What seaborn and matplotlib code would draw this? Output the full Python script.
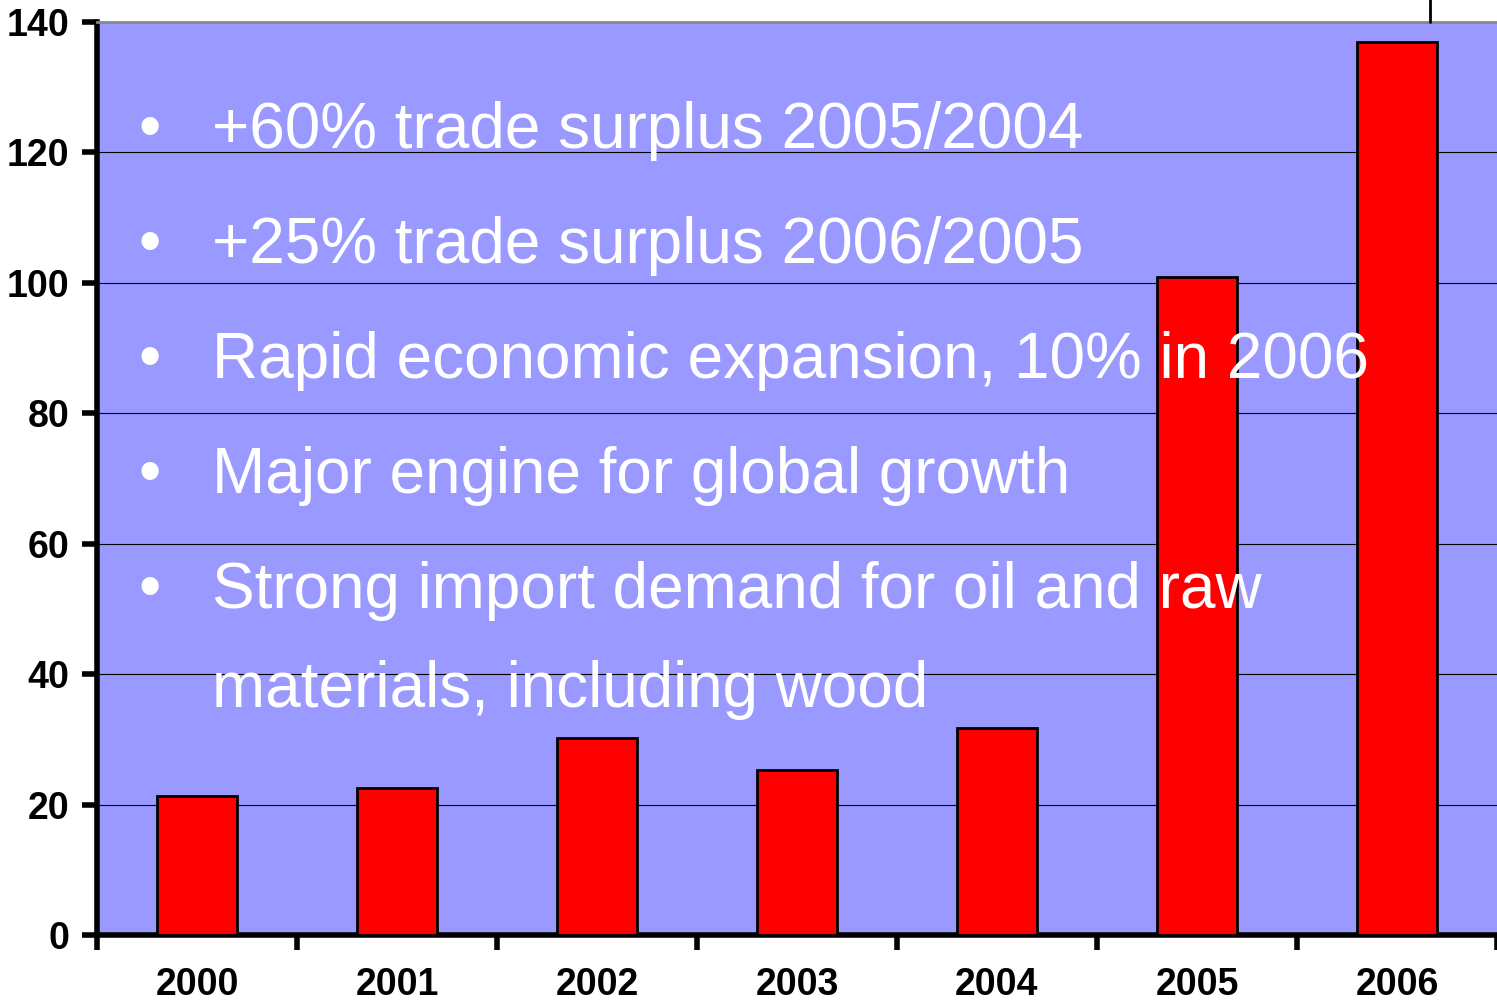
import matplotlib
matplotlib.use("Agg")
import matplotlib.pyplot as plt
import seaborn as sns
import pandas as pd
from matplotlib.lines import Line2D

years = ["2000", "2001", "2002", "2003", "2004", "2005", "2006"]
surplus = [21.3, 22.5, 30.2, 25.3, 31.7, 100.9, 137.0]
y_ticks = [0, 20, 40, 60, 80, 100, 120, 140]
bullets = [
    "+60% trade surplus 2005/2004",
    "+25% trade surplus 2006/2005",
    "Rapid economic expansion, 10% in 2006",
    "Major engine for global growth",
    "Strong import demand for oil and raw",
]
continuation = "materials, including wood"

sns.set_theme(style="white")
plt.rcParams["font.family"] = ["Liberation Sans", "DejaVu Sans"]

W, H = 1497, 1007
fig = plt.figure(figsize=(W / 100, H / 100), dpi=100)
ax = fig.add_axes([97 / W, 1 - 935 / H, 1 - 97 / W, (935 - 22) / H])
ax.set_facecolor("#9999FF")

df = pd.DataFrame({"year": years, "surplus": surplus})
sns.barplot(data=df, x="year", y="surplus", color="#FF0000", width=0.4,
            edgecolor="black", linewidth=2, saturation=1, ax=ax, zorder=3)

ax.set_ylim(0, 140)
ax.set_xlim(-0.5, len(years) - 0.5)
ax.set_yticks(y_ticks)
ax.set_yticklabels([str(v) for v in y_ticks], fontsize=27, fontweight="bold", color="black")
ax.yaxis.grid(True, color="black", linewidth=0.8, zorder=0)
ax.set_axisbelow(True)

ax.set_xticks([i - 0.5 for i in range(len(years) + 1)])
ax.set_xticklabels([])
ax.set_xticks(range(len(years)), minor=True)
ax.set_xticklabels(years, minor=True, fontsize=27, fontweight="bold", color="black")
ax.tick_params(axis="x", which="major", direction="out", length=11, width=4, color="black", bottom=True)
ax.tick_params(axis="x", which="minor", length=0, pad=23, bottom=True, labelcolor="black")
ax.tick_params(axis="y", direction="out", length=11, width=4, color="black", pad=9, left=True, labelcolor="black")
ax.set_xlabel("")
ax.set_ylabel("")

for side in ["left", "bottom"]:
    ax.spines[side].set_color("black")
    ax.spines[side].set_linewidth(4)
ax.spines["top"].set_color("#888888")
ax.spines["top"].set_linewidth(2)
ax.spines["right"].set_visible(False)

def ax_xy(px, py):
    return ((px - 97) / (W - 97), (935 - py) / (935 - 22))

baselines = [148, 263, 378, 493, 608]
for text, b in zip(bullets, baselines):
    x0, y0 = ax_xy(150, b)
    ax.text(x0, y0, "•", transform=ax.transAxes, color="white", fontsize=46,
            ha="center", va="baseline", zorder=5)
    x1, _ = ax_xy(212, b)
    ax.text(x1, y0, text, transform=ax.transAxes, color="white", fontsize=46,
            ha="left", va="baseline", zorder=5)
x1, y1 = ax_xy(212, 707)
ax.text(x1, y1, continuation, transform=ax.transAxes, color="white", fontsize=46,
        ha="left", va="baseline", zorder=5)

fig.add_artist(Line2D([1430 / W, 1430 / W], [1 - 22 / H, 1.0], transform=fig.transFigure,
                      color="black", linewidth=2))

fig.savefig("out.png", dpi=100, facecolor="white")
